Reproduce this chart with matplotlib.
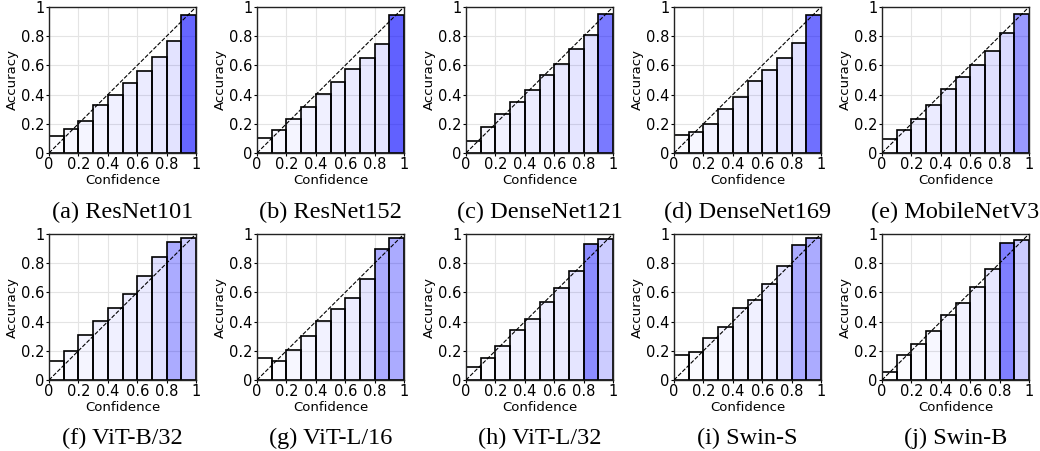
import matplotlib
matplotlib.use('Agg')
import matplotlib.pyplot as plt
import numpy as np

# ── Reliability diagrams: accuracy per confidence bin (10 bins) ─────────────
models = ['ResNet101', 'ResNet152', 'DenseNet121', 'DenseNet169', 'MobileNetV3',
          'ViT-B/32', 'ViT-L/16', 'ViT-L/32', 'Swin-S', 'Swin-B']
letters = ['a', 'b', 'c', 'd', 'e', 'f', 'g', 'h', 'i', 'j']

bins = np.linspace(0, 1, 11)[:-1]

acc_resnet101   = [0.118, 0.164, 0.218, 0.327, 0.400, 0.482, 0.559, 0.657, 0.764, 0.945]
acc_resnet152   = [0.102, 0.155, 0.232, 0.314, 0.407, 0.484, 0.573, 0.652, 0.750, 0.945]
acc_densenet121 = [0.080, 0.175, 0.266, 0.350, 0.432, 0.536, 0.607, 0.709, 0.809, 0.952]
acc_densenet169 = [0.120, 0.143, 0.202, 0.298, 0.382, 0.493, 0.566, 0.648, 0.752, 0.943]
acc_mobilenetv3 = [0.095, 0.155, 0.232, 0.332, 0.436, 0.523, 0.602, 0.700, 0.823, 0.950]
acc_vit_b32     = [0.130, 0.200, 0.310, 0.405, 0.490, 0.590, 0.710, 0.840, 0.945, 0.970]
acc_vit_l16     = [0.150, 0.133, 0.206, 0.304, 0.407, 0.485, 0.565, 0.690, 0.897, 0.973]
acc_vit_l32     = [0.087, 0.151, 0.233, 0.343, 0.421, 0.531, 0.632, 0.744, 0.929, 0.963]
acc_swin_s      = [0.169, 0.192, 0.290, 0.364, 0.490, 0.545, 0.657, 0.780, 0.927, 0.973]
acc_swin_b      = [0.055, 0.169, 0.249, 0.336, 0.444, 0.529, 0.634, 0.760, 0.940, 0.961]

# share of samples per bin (drives bar shading)
share_resnet101   = [0.01, 0.03, 0.04, 0.05, 0.06, 0.07, 0.08, 0.09, 0.11, 0.60]
share_resnet152   = [0.01, 0.03, 0.04, 0.05, 0.06, 0.07, 0.08, 0.09, 0.11, 0.62]
share_densenet121 = [0.01, 0.03, 0.05, 0.06, 0.07, 0.08, 0.09, 0.10, 0.12, 0.52]
share_densenet169 = [0.01, 0.03, 0.05, 0.06, 0.07, 0.08, 0.09, 0.10, 0.11, 0.56]
share_mobilenetv3 = [0.02, 0.05, 0.07, 0.08, 0.09, 0.10, 0.11, 0.12, 0.14, 0.40]
share_vit_b32     = [0.01, 0.03, 0.04, 0.05, 0.06, 0.07, 0.08, 0.12, 0.33, 0.20]
share_vit_l16     = [0.00, 0.02, 0.03, 0.04, 0.05, 0.06, 0.07, 0.10, 0.33, 0.33]
share_vit_l32     = [0.01, 0.02, 0.04, 0.05, 0.06, 0.07, 0.08, 0.10, 0.45, 0.20]
share_swin_s      = [0.00, 0.02, 0.03, 0.04, 0.05, 0.06, 0.07, 0.10, 0.33, 0.33]
share_swin_b      = [0.00, 0.01, 0.02, 0.03, 0.04, 0.05, 0.06, 0.09, 0.50, 0.20]

accs = [acc_resnet101, acc_resnet152, acc_densenet121, acc_densenet169, acc_mobilenetv3,
        acc_vit_b32, acc_vit_l16, acc_vit_l32, acc_swin_s, acc_swin_b]
shares = [share_resnet101, share_resnet152, share_densenet121, share_densenet169, share_mobilenetv3,
          share_vit_b32, share_vit_l16, share_vit_l32, share_swin_s, share_swin_b]

W, H = 1040, 451
fig = plt.figure(figsize=(W / 100, H / 100), dpi=100, facecolor='white')

lefts = [49, 257, 466, 674, 882]
tops = [7, 234]
ax_w, ax_h = 147, 146
cap_y = [212, 438]

for i, (name, acc, share) in enumerate(zip(models, accs, shares)):
    r, c = divmod(i, 5)
    ax = fig.add_axes([lefts[c] / W, (H - tops[r] - ax_h) / H, ax_w / W, ax_h / H])
    colors = [(0, 0, 1, a) for a in share]
    ax.bar(bins, acc, width=0.1, align='edge', color=colors,
           edgecolor='black', linewidth=1.2, zorder=2)
    ax.plot([0, 1], [0, 1], linestyle='--', color='black', linewidth=0.8, zorder=3)
    ax.set_xlim(0, 1)
    ax.set_ylim(0, 1)
    ticks = np.linspace(0, 1, 6)
    ax.set_xticks(ticks)
    ax.set_yticks(ticks)
    fmt = plt.FuncFormatter(lambda v, _: f'{v:g}')
    ax.xaxis.set_major_formatter(fmt)
    ax.yaxis.set_major_formatter(fmt)
    ax.tick_params(labelsize=10.5, length=2, pad=1)
    ax.set_xlabel('Confidence', fontsize=9.5, labelpad=1)
    ax.set_ylabel('Accuracy', fontsize=9.5, labelpad=2)
    ax.grid(color='#e4e4e4', linewidth=0.8, zorder=0)
    ax.set_axisbelow(True)
    for s in ax.spines.values():
        s.set_linewidth(1.0)
        s.set_color('#222222')
    fig.text((lefts[c] + ax_w / 2) / W, 1 - cap_y[r] / H, f'({letters[i]}) {name}',
             ha='center', va='center', fontsize=17.5, family='Liberation Serif')

fig.savefig('out.png', dpi=100, facecolor='white')
